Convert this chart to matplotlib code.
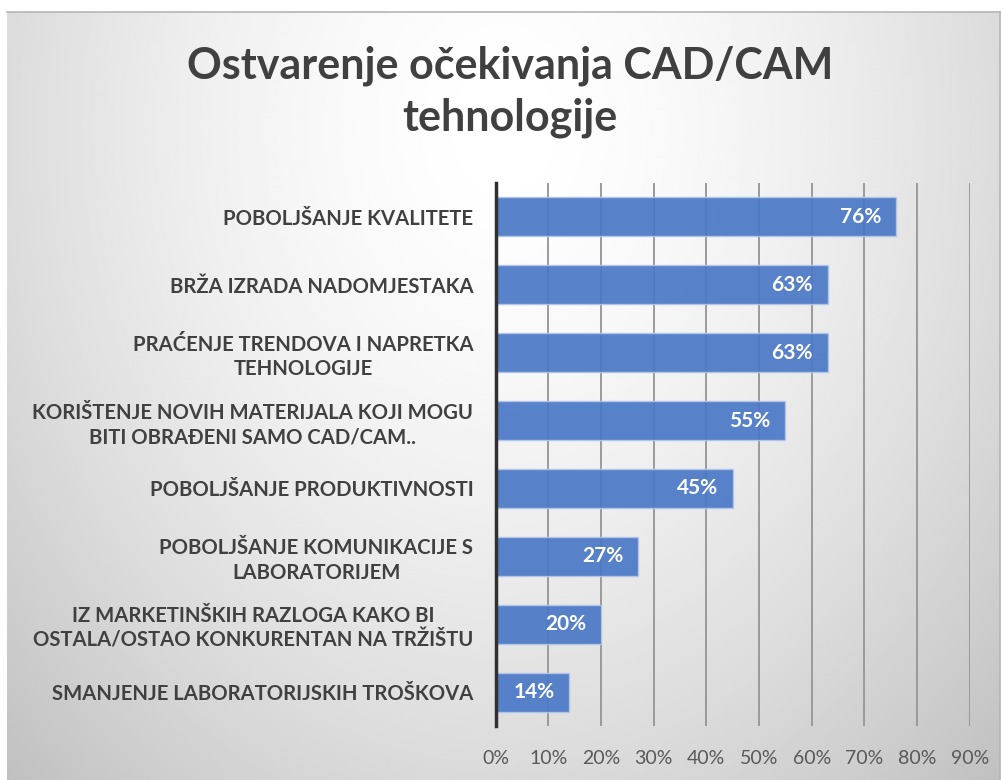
import numpy as np
import matplotlib.pyplot as plt

# === Data ===
categories = [
    "POBOLJŠANJE KVALITETE",
    "BRŽA IZRADA NADOMJESTAKA",
    "PRAĆENJE TRENDOVA I NAPRETKA\nTEHNOLOGIJE",
    "KORIŠTENJE NOVIH MATERIJALA KOJI MOGU\nBITI OBRAĐENI SAMO CAD/CAM..",
    "POBOLJŠANJE PRODUKTIVNOSTI",
    "POBOLJŠANJE KOMUNIKACIJE S\nLABORATORIJEM",
    "IZ MARKETINŠKIH RAZLOGA KAKO BI\nOSTALA/OSTAO KONKURENTAN NA TRŽIŠTU",
    "SMANJENJE LABORATORIJSKIH TROŠKOVA",
]
values = [0.76, 0.63, 0.63, 0.55, 0.45, 0.27, 0.20, 0.14]
xticks = [0.0, 0.1, 0.2, 0.3, 0.4, 0.5, 0.6, 0.7, 0.8, 0.9]
title_lines = ["Ostvarenje očekivanja CAD/CAM", "tehnologije"]

plt.rcParams['font.family'] = ['Lato', 'DejaVu Sans']

W, H = 1004, 780
fig = plt.figure(figsize=(W / 100, H / 100), dpi=100)
fig.patch.set_facecolor('white')

# === Background panel with radial grey gradient ===
bg = fig.add_axes([7 / W, 0, (1000 - 7) / W, (H - 12) / H], zorder=0)
yy, xx = np.mgrid[0:1:400j, 0:1:500j]
d = np.sqrt(((xx - 0.5) / 0.55) ** 2 + ((yy - 0.15) / 0.9) ** 2)
shade = np.clip(1 - 0.16 * d ** 1.6, 0, 1)
bg.imshow(shade, cmap='gray', vmin=0, vmax=1, aspect='auto',
          extent=[0, 1, 1, 0], interpolation='bilinear')
bg.set_xticks([])
bg.set_yticks([])
for s in bg.spines.values():
    s.set_color('#b5b5b5')
    s.set_linewidth(1.2)
bg.spines['left'].set_visible(False)
bg.spines['bottom'].set_visible(False)

# === Bar chart ===
ax = fig.add_axes([495.7 / W, (H - 726) / H, 474 / W, 543 / H], zorder=1)
ax.patch.set_alpha(0)
y = np.arange(len(categories))
ax.barh(y, values, height=0.575, color='#4a78c6', alpha=0.92,
        edgecolor='#b3c6ea', linewidth=1.0, zorder=3)
ax.set_ylim(len(categories) - 0.5, -0.5)
ax.set_xlim(0, 0.9)

for i, v in enumerate(values):
    ax.text(v - 0.028, i, f"{v:.0%}", ha='right', va='center',
            color='white', fontsize=15, fontweight='bold', zorder=4)

ax.set_xticks(xticks)
ax.set_xticklabels([f"{t:.0%}" for t in xticks], fontsize=14, color='#595959')
ax.set_yticks(y)
ax.set_yticklabels(categories, fontsize=14.6, fontweight='bold', color='#404040')
for lbl in ax.get_yticklabels():
    lbl.set_multialignment('center')
    lbl.set_linespacing(1.3)
ax.tick_params(axis='both', length=0)
ax.tick_params(axis='x', pad=17)
ax.tick_params(axis='y', pad=16)

ax.grid(axis='x', color='#9a9a9a', linewidth=1.4, zorder=1)
ax.set_axisbelow(True)
for side in ['top', 'right', 'bottom']:
    ax.spines[side].set_visible(False)
ax.spines['left'].set_color('#303030')
ax.spines['left'].set_linewidth(2.5)
ax.spines['left'].set_zorder(5)

# === Title ===
for line, base in zip(title_lines, [78, 130]):
    fig.text(510 / W, 1 - base / H, line, ha='center', va='baseline',
             fontsize=31, fontweight='bold', color='#404040')

fig.savefig('out.png', dpi=100)
